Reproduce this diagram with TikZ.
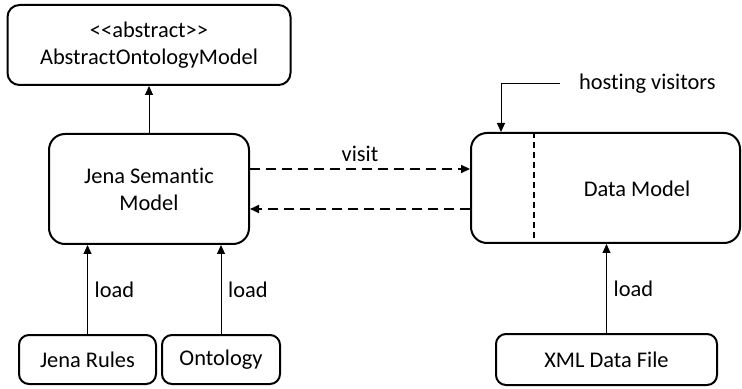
\documentclass[tikz,border=0pt]{standalone}
\usepackage{fontspec}
\setmainfont{Carlito}[Ligatures=NoCommon]
\usepackage{tikz}
\usetikzlibrary{arrows.meta,positioning,calc}

\tikzset{
  box/.style={draw,thick,line width=1pt,rounded corners=6pt,align=center,inner sep=0pt},
  link/.style={line width=0.5pt,-{Triangle[length=4.5pt,width=4pt]}},
  call/.style={line width=1pt,dashed,dash pattern=on 5pt off 3pt,-{Triangle[length=4.5pt,width=4pt]}}
}

\begin{document}
\begin{tikzpicture}[x=0.5pt,y=-0.5pt,font=\fontsize{11.2}{13.5}\selectfont]
\useasboundingbox (0,0) rectangle (742,389);
% Ontology side
\node[box,minimum width=141.5pt,minimum height=40pt] (abs) at (149,45) {<\kern0pt<abstract>\kern0pt>\\AbstractOntologyModel};
\node[box,rounded corners=8pt,minimum width=100pt,minimum height=55pt] (jena) at (149,189) {Jena Semantic\\Model};
\node[box,rounded corners=5pt,minimum width=68.5pt,minimum height=24.5pt] (rules) at (87.5,359.5) {Jena Rules};
\node[box,rounded corners=5pt,minimum width=59pt,minimum height=24.5pt] (onto) at (221,359.5) {Ontology};

% Data side
\node[box,rounded corners=8pt,minimum width=134.5pt,minimum height=55pt] (data) at (605.5,188) {};
\node (dlabel) at (637,189) {Data Model};
\node[box,rounded corners=5pt,minimum width=110.5pt,minimum height=25.5pt] (xml) at (606.5,359.5) {XML Data File};
\draw[line width=0.8pt,dashed,dash pattern=on 3pt off 2pt] ([xshift=32pt]data.north west) -- ([xshift=32pt]data.south west);
\node[anchor=west] (host) at (572,84) {hosting visitors};
\coordinate (hend) at (560,84);

% Connectors
\draw[link] (jena.north) -- (abs.south);
\draw[link] (rules.north) -- (rules.north |- jena.south) node[midway,right] {load};
\draw[link] (onto.north) -- (onto.north |- jena.south) node[midway,right] {load};
\draw[link] (xml.north) -- (xml.north |- data.south) node[midway,right] {load};
\draw[link] (hend) -| ([xshift=15.5pt]data.north west);
\draw[call] ([yshift=10pt]jena.east) -- ([yshift=10pt]jena.east -| data.west) node[midway,above] {visit};
\draw[call] ([yshift=-10pt]jena.east -| data.west) -- ([yshift=-10pt]jena.east);
\end{tikzpicture}
\end{document}
